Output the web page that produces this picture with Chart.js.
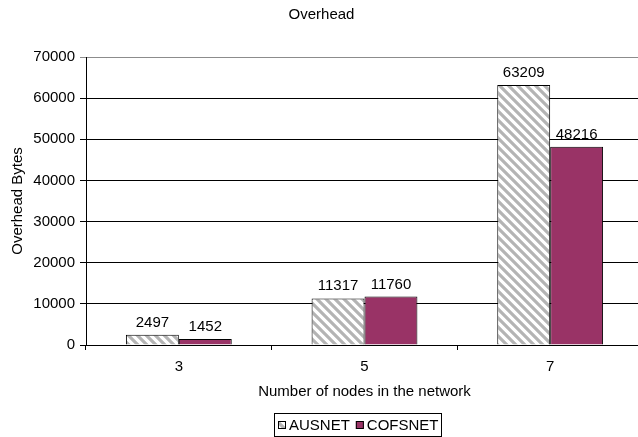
<!DOCTYPE html>
<html>
<head>
<meta charset="utf-8">
<script src="https://cdn.jsdelivr.net/npm/chart.js@4.4.1/dist/chart.umd.min.js"></script>
<style>
  html, body { margin: 0; padding: 0; background: #fff; overflow: hidden; }
  #wrap { width: 646px; height: 437px; }
</style>
</head>
<body>
<div id="wrap"><canvas id="chart" width="646" height="437"></canvas></div>
<script>
const categories = ["3", "5", "7"];
const ausnet = [2497, 11317, 63209];
const cofsnet = [1452, 11760, 48216];
const seriesNames = ["AUSNET", "COFSNET"];

const FONT = "'Liberation Sans', Arial, sans-serif";
const PURPLE = "#993366";

// diagonal grey hatch for the AUSNET bars
const makeHatch = (ctx) => {
    const size = 9;
    const c = document.createElement("canvas");
    c.width = size;
    c.height = size;
    const g = c.getContext("2d");
    g.fillStyle = "#ffffff";
    g.fillRect(0, 0, size, size);
    g.strokeStyle = "#b4b4b4";
    g.lineWidth = 3.2;
    g.beginPath();
    [-size, 0, size].forEach((k) => {
        g.moveTo(-4, -4 + k);
        g.lineTo(size + 4, size + 4 + k);
    });
    g.stroke();
    return ctx.createPattern(c, "repeat");
};

const canvas = document.getElementById("chart");
const hatch = makeHatch(canvas.getContext("2d"));

// numbers above each bar
const valueLabels = {
    id: "valueLabels",
    afterDatasetsDraw(chart) {
        const ctx = chart.ctx;
        ctx.save();
        ctx.font = "15px " + FONT;
        ctx.fillStyle = "#000";
        ctx.textAlign = "center";
        ctx.textBaseline = "alphabetic";
        chart.data.datasets.forEach((ds, i) => {
            chart.getDatasetMeta(i).data.forEach((bar, j) => {
                ctx.fillText(String(ds.data[j]), bar.x, bar.y - 8);
            });
        });
        ctx.restore();
    },
};

// boxed legend under the axis title
const boxLegend = {
    id: "boxLegend",
    afterDraw(chart) {
        const ctx = chart.ctx;
        const left = 274, top = 413, h = 23;
        ctx.save();
        ctx.font = "15px " + FONT;
        const fills = [hatch, PURPLE];
        const sq = 8, gapSq = 3, gapItem = 6, padX = 3;
        let w = padX * 2;
        seriesNames.forEach((n, i) => {
            w += sq + gapSq + ctx.measureText(n).width;
            if (i < seriesNames.length - 1) w += gapItem;
        });
        ctx.strokeStyle = "#000";
        ctx.lineWidth = 1;
        ctx.strokeRect(left + 0.5, top + 0.5, Math.round(w), h);
        let x = left + padX + 1;
        const cy = top + h / 2 + 0.5;
        seriesNames.forEach((n, i) => {
            ctx.fillStyle = fills[i];
            ctx.fillRect(x, Math.round(cy - sq / 2), sq, sq);
            ctx.strokeStyle = "#000";
            ctx.strokeRect(x + 0.5, Math.round(cy - sq / 2) + 0.5, sq - 1, sq - 1);
            x += sq + gapSq;
            ctx.fillStyle = "#000";
            ctx.textBaseline = "middle";
            ctx.textAlign = "left";
            ctx.fillText(n, x, cy + 1);
            x += ctx.measureText(n).width + gapItem;
        });
        ctx.restore();
    },
};

new Chart(canvas, {
    type: "bar",
    data: {
        labels: categories,
        datasets: [
            {
                label: seriesNames[0],
                data: ausnet,
                backgroundColor: hatch,
                borderColor: "#000",
                borderWidth: 1,
                borderSkipped: "bottom",
                barPercentage: 1.0,
                categoryPercentage: 0.57,
            },
            {
                label: seriesNames[1],
                data: cofsnet,
                backgroundColor: PURPLE,
                borderColor: "#000",
                borderWidth: 1,
                borderSkipped: "bottom",
                barPercentage: 1.0,
                categoryPercentage: 0.57,
            },
        ],
    },
    options: {
        responsive: false,
        animation: false,
        layout: { padding: { left: 0, right: 3, top: 0, bottom: 32 } },
        plugins: {
            legend: { display: false },
            tooltip: { enabled: false },
            title: {
                display: true,
                text: "Overhead",
                color: "#000",
                font: { family: FONT, size: 15, weight: "normal", lineHeight: 1.2 },
                padding: { top: 6, bottom: 33 },
            },
        },
        scales: {
            x: {
                offset: true,
                afterFit: (scale) => { scale.height = 60; },
                grid: {
                    offset: true,
                    drawOnChartArea: false,
                    drawTicks: true,
                    tickLength: 5,
                    color: "#000",
                },
                border: { color: "#000", width: 1 },
                ticks: {
                    color: "#000",
                    font: { family: FONT, size: 15 },
                    padding: 8,
                },
                title: {
                    display: true,
                    text: "Number of nodes in the network",
                    color: "#000",
                    font: { family: FONT, size: 15 },
                    padding: { top: 4, bottom: 4 },
                },
            },
            y: {
                min: 0,
                max: 70000,
                afterFit: (scale) => { scale.width = 86; },
                grid: {
                    color: (c) => (c.tick && c.tick.value === 70000 ? "#8c8c8c" : "#000"),
                    tickLength: 6,
                },
                border: { color: "#000", width: 1 },
                ticks: {
                    stepSize: 10000,
                    color: "#000",
                    font: { family: FONT, size: 15 },
                    padding: 5,
                    callback: (v) => String(v),
                },
                title: {
                    display: true,
                    text: "Overhead Bytes",
                    color: "#000",
                    font: { family: FONT, size: 15 },
                    padding: { top: 8.5, bottom: 4 },
                },
            },
        },
    },
    plugins: [valueLabels, boxLegend],
});
</script>
</body>
</html>
